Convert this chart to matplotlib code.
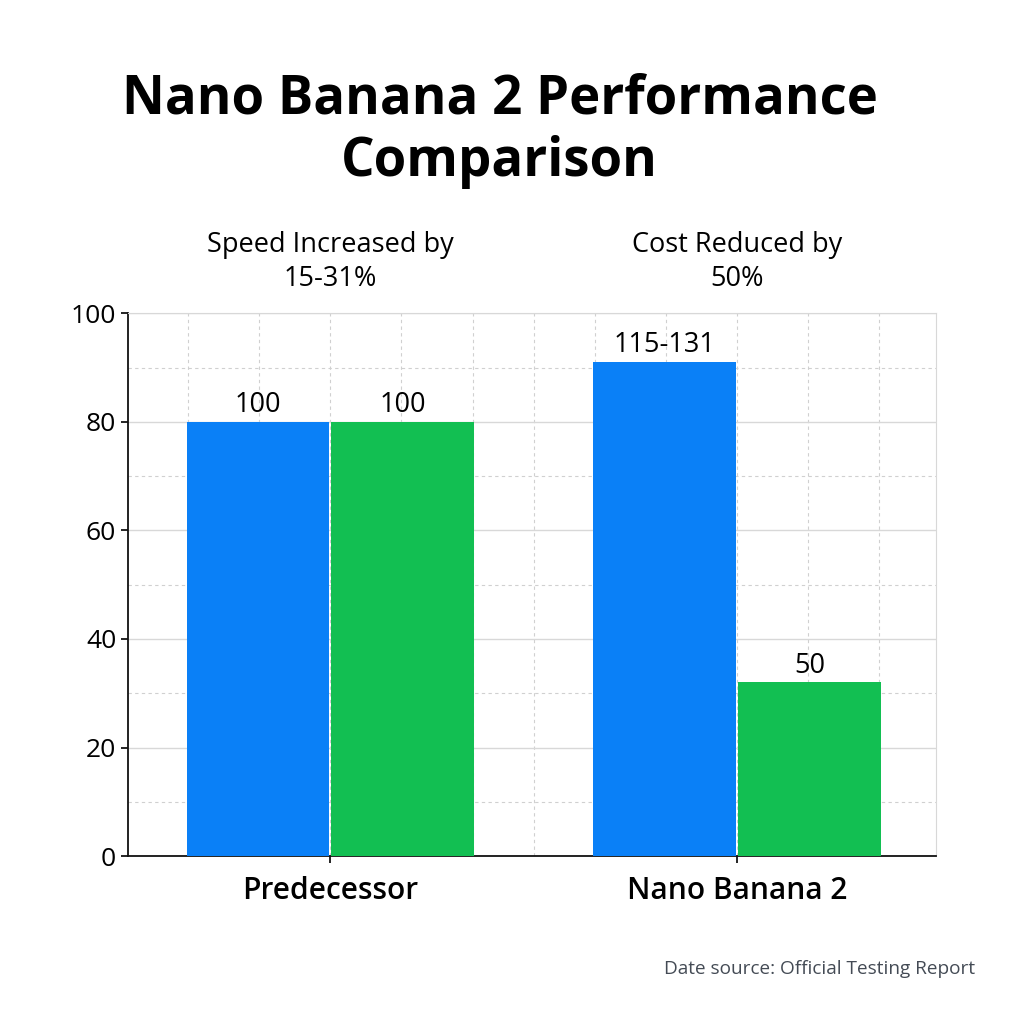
import matplotlib.pyplot as plt
import numpy as np
from matplotlib.ticker import MultipleLocator

# data
categories = ['Predecessor', 'Nano Banana 2']
speed_vals = [80, 91]
cost_vals = [80, 32]
speed_labels = ['100', '115-131']
cost_labels = ['100', '50']
headers = ['Speed Increased by\n15-31%', 'Cost Reduced by\n50%']

blue = '#0A80F7'
green = '#12BF52'

plt.rcParams['font.family'] = ['Open Sans', 'DejaVu Sans']

fig = plt.figure(figsize=(10.24, 10.24), dpi=100)
ax = fig.add_axes([0.125, 0.164, 0.789, 0.530])

x = np.arange(len(categories))
w = 0.35
b1 = ax.bar(x - w / 2 - 0.003, speed_vals, w, color=blue, zorder=3)
b2 = ax.bar(x + w / 2 + 0.003, cost_vals, w, color=green, zorder=3)

for bars, labs in [(b1, speed_labels), (b2, cost_labels)]:
    for r, t in zip(bars, labs):
        ax.annotate(t, (r.get_x() + r.get_width() / 2, r.get_height()),
                    xytext=(0, 2), textcoords='offset points',
                    ha='center', va='bottom', fontsize=19.5)

ax.set_xlim(-0.497, 1.489)
ax.set_ylim(0, 100)
ax.set_xticks(x)
ax.set_xticklabels(categories, fontsize=21.5, fontweight='semibold')
ax.set_yticks(range(0, 101, 20))
ax.tick_params(axis='y', labelsize=19, length=5, width=1.2)
ax.tick_params(axis='x', length=5, width=1.2, pad=9)
ax.yaxis.set_minor_locator(MultipleLocator(10))
ax.tick_params(axis='y', which='minor', length=0)

# grid
ax.grid(axis='y', which='major', color='#d8d8d8', lw=1, zorder=0)
ax.grid(axis='y', which='minor', color='#d0d0d0', lw=0.8, ls=(0, (3, 3)), zorder=0)
vx = [c + d for c in x for d in (-0.35, -0.175, 0, 0.175, 0.35)] + [0.5]
for v in vx:
    ax.axvline(v, color='#d0d0d0', lw=0.8, ls=(0, (3, 3)), zorder=0)

for s in ['left', 'bottom']:
    ax.spines[s].set_color('#111111')
    ax.spines[s].set_linewidth(1.3)
for s in ['top', 'right']:
    ax.spines[s].set_color('#d8d8d8')

fig.text(0.488, 0.872, 'Nano Banana 2 Performance\nComparison', ha='center', va='center',
         fontsize=38, fontweight='bold', linespacing=1.2)
for c, h in zip(x, headers):
    xf = ax.transData.transform((c, 0))[0] / fig.bbox.width
    fig.text(xf, 0.744, h, ha='center', va='center', fontsize=19.5, linespacing=1.3)

fig.text(0.952, 0.054, 'Date source: Official Testing Report', ha='right', va='center',
         fontsize=13.7, color='#444b55')

fig.savefig('out.png', dpi=100, facecolor='white')
